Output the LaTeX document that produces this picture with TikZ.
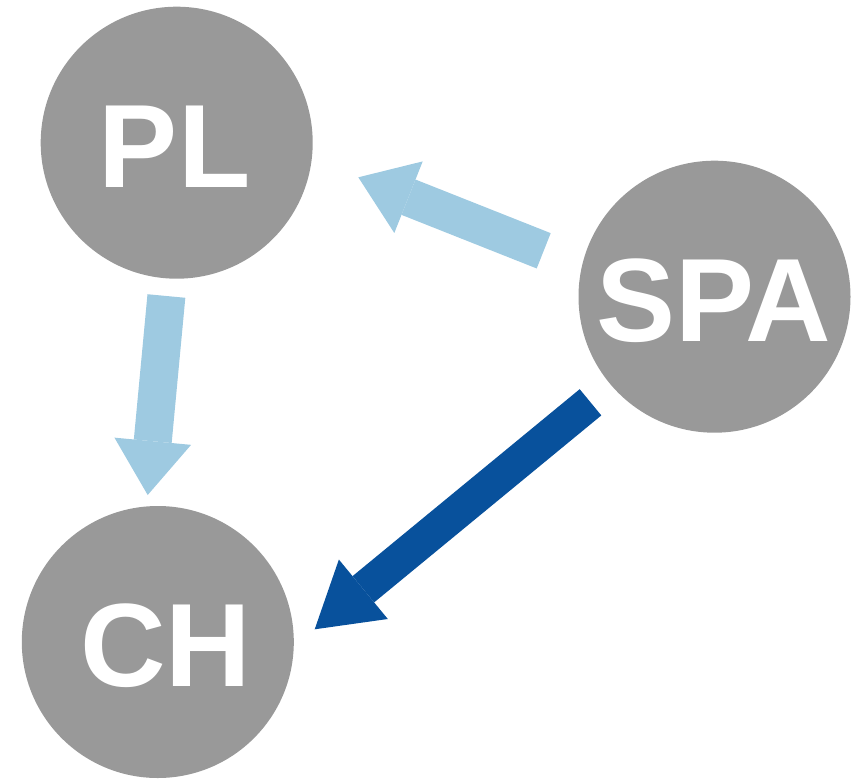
\documentclass[tikz,border=0pt]{standalone}
\usepackage{fontspec}
\setmainfont{Liberation Sans}
\usetikzlibrary{arrows.meta}
\definecolor{nodegrey}{HTML}{999999}
\definecolor{lightblue}{HTML}{9ECAE1}
\definecolor{darkblue}{HTML}{08519C}
\begin{document}
\begin{tikzpicture}[x=1pt,y=-1pt,
  circ/.style={circle, fill=nodegrey, inner sep=0pt, minimum size=272pt,
    text=white, text height=89.6pt, text depth=0pt,
    font=\bfseries\fontsize{118.5}{118.5}\selectfont},
  lightarrow/.style={draw=lightblue, line width=38pt,
    -{Triangle[length=54pt,width=77pt,line width=0pt]}},
  darkarrow/.style={draw=darkblue, line width=34pt,
    -{Triangle[length=63pt,width=77pt,line width=0pt]}}]
\useasboundingbox (0,0) rectangle (851,779);
\node[circ] (PL) at (176.7,142.7) {\kern-4pt PL};
\node[circ] (SPA) at (714.5,296.7) {\kern-1pt SPA};
\node[circ] (CH) at (157.8,642) {\kern16pt CH};
\coordinate (a1s) at (166.4,296);
\coordinate (a1e) at (147.7,495);
\coordinate (a2s) at (543.7,250.8);
\coordinate (a2e) at (358.3,177.3);
\coordinate (a3s) at (590.5,402.3);
\coordinate (a3e) at (314.7,629.3);
\draw[lightarrow] (a1s) -- (a1e);
\draw[lightarrow] (a2s) -- (a2e);
\draw[darkarrow] (a3s) -- (a3e);
\end{tikzpicture}
\end{document}
